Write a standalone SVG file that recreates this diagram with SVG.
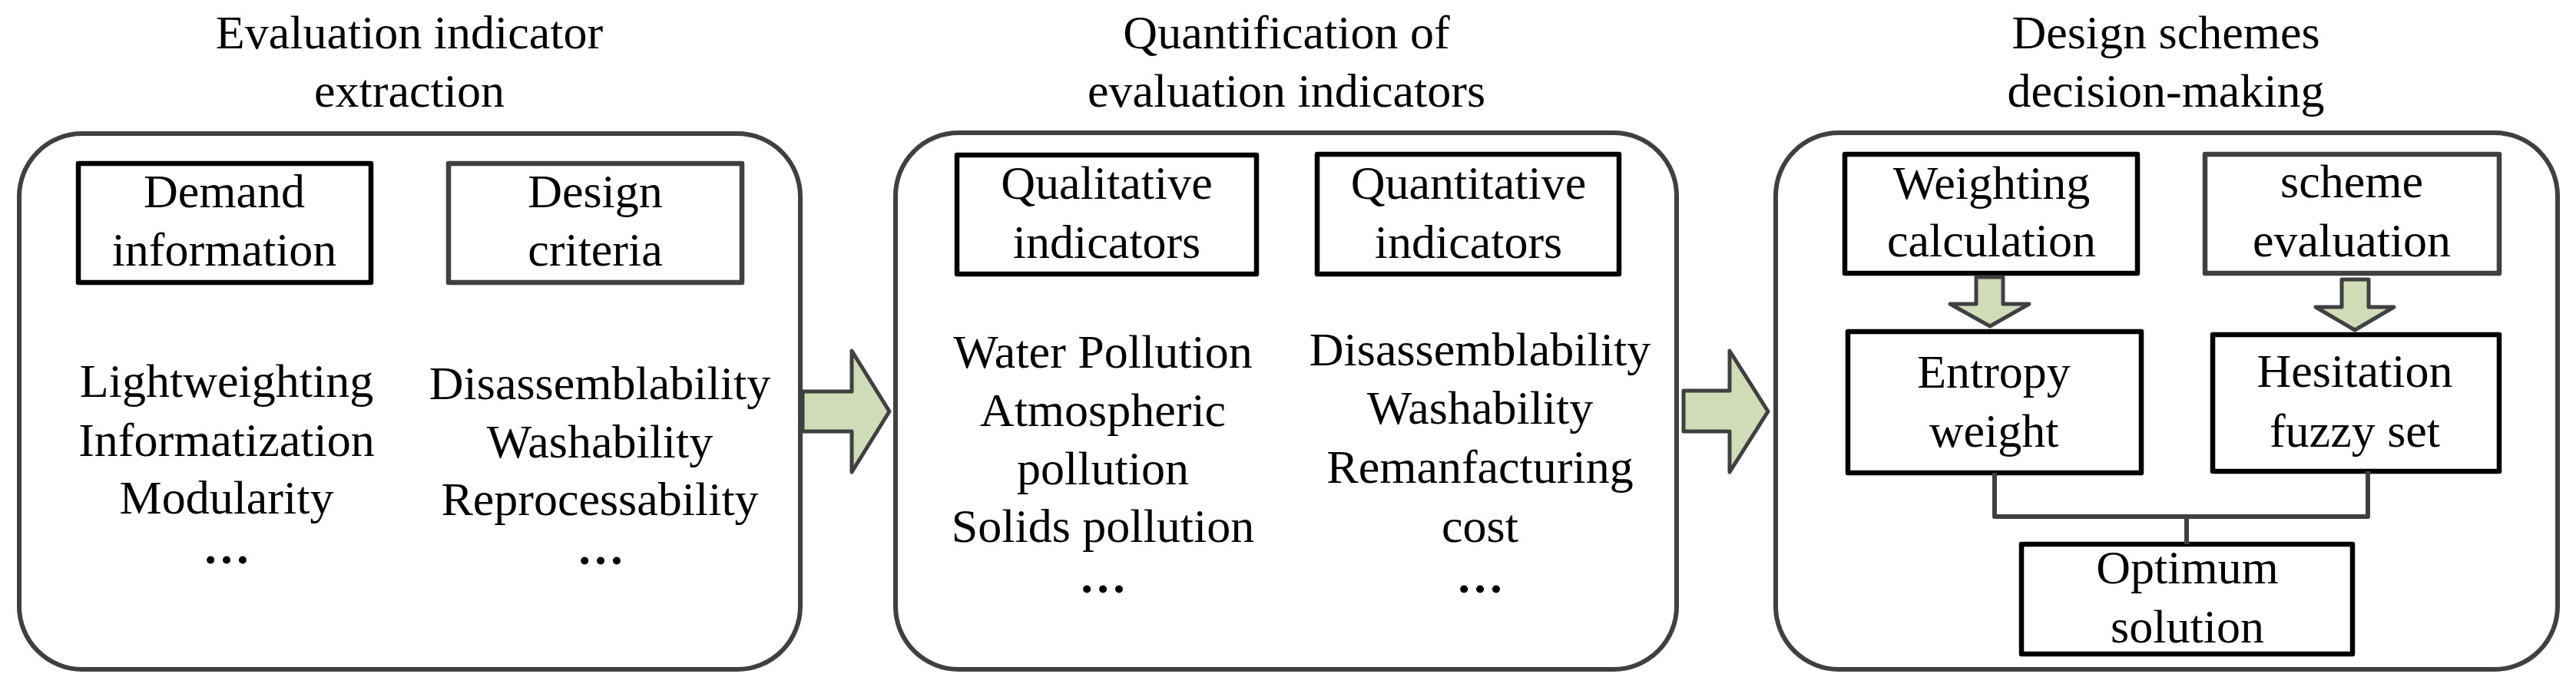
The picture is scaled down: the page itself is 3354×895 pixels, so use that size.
<svg xmlns="http://www.w3.org/2000/svg" width="3354" height="895" viewBox="0 0 3354 895">
<style>
text{font-size:62px;fill:#000;text-anchor:middle}
.dots{font-weight:bold}
.panel{fill:#fff;stroke:#404040;stroke-width:6}
.box{fill:#fff;stroke:#000;stroke-width:6.5;stroke-linejoin:round}
.gbox{fill:#fff;stroke:#404040;stroke-width:6.5;stroke-linejoin:round}
.arrow{fill:#D0DCB8;stroke:#404040;stroke-width:5;stroke-linejoin:round}
.conn{fill:none;stroke:#404040;stroke-width:6;stroke-linejoin:round}
</style>
<rect width="3354" height="895" fill="#fff"/>
<g font-family="Liberation Serif">

<g id="panel1">
<text x="533" y="63">Evaluation indicator</text>
<text x="533" y="139">extraction</text>
<rect class="panel" x="25" y="174" width="1017" height="698" rx="82" ry="82"/>
</g>
<g id="demand-information">
<rect class="box" x="102" y="213" width="381" height="155"/>
<text x="292" y="270">Demand</text>
<text x="292" y="346">information</text>
</g>
<g id="design-criteria">
<rect class="gbox" x="584" y="213" width="382" height="155"/>
<text x="775" y="270">Design</text>
<text x="775" y="346">criteria</text>
</g>
<g id="list1-left">
<text x="295" y="517">Lightweighting</text>
<text x="295" y="594">Informatization</text>
<text x="295" y="669">Modularity</text>
<text class="dots" x="295" y="734">…</text>
</g>
<g id="list1-right">
<text x="781" y="520">Disassemblability</text>
<text x="781" y="596">Washability</text>
<text x="781" y="671">Reprocessability</text>
<text class="dots" x="782" y="735">…</text>
</g>

<g id="panel2">
<text x="1675" y="63">Quantification of</text>
<text x="1675" y="139">evaluation indicators</text>
<rect class="panel" x="1166" y="173" width="1017" height="699" rx="82" ry="82"/>
</g>
<g id="qualitative-indicators">
<rect class="box" x="1246" y="202" width="390" height="155"/>
<text x="1441" y="259">Qualitative</text>
<text x="1441" y="336">indicators</text>
</g>
<g id="quantitative-indicators">
<rect class="box" x="1715" y="201" width="393" height="156"/>
<text x="1912" y="259">Quantitative</text>
<text x="1912" y="336">indicators</text>
</g>
<g id="list2-left">
<text x="1436" y="479">Water Pollution</text>
<text x="1436" y="555">Atmospheric</text>
<text x="1436" y="631">pollution</text>
<text x="1436" y="706">Solids pollution</text>
<text class="dots" x="1436" y="772">…</text>
</g>
<g id="list2-right">
<text x="1927" y="476">Disassemblability</text>
<text x="1927" y="552">Washability</text>
<text x="1927" y="629">Remanfacturing</text>
<text x="1927" y="706">cost</text>
<text class="dots" x="1927" y="772">…</text>
</g>

<g id="panel3">
<text x="2820" y="63">Design schemes</text>
<text x="2820" y="139">decision-making</text>
<rect class="panel" x="2312" y="173" width="1018" height="699" rx="82" ry="82"/>
</g>
<g id="weighting-calculation">
<rect class="box" x="2402" y="201" width="381" height="155"/>
<text x="2593" y="259">Weighting</text>
<text x="2593" y="334">calculation</text>
</g>
<g id="scheme-evaluation">
<rect class="gbox" x="2871" y="201" width="383" height="155"/>
<text x="3062" y="257">scheme</text>
<text x="3062" y="334">evaluation</text>
</g>
<g id="entropy-weight">
<rect class="box" x="2406" y="432" width="382" height="184"/>
<text x="2596" y="505">Entropy</text>
<text x="2596" y="582">weight</text>
</g>
<g id="hesitation-fuzzy-set">
<rect class="box" x="2881" y="436" width="373" height="178"/>
<text x="3066" y="504">Hesitation</text>
<text x="3066" y="582">fuzzy set</text>
</g>
<g id="optimum-solution">
<rect class="box" x="2632" y="709" width="431" height="143"/>
<text x="2848" y="760">Optimum</text>
<text x="2848" y="837">solution</text>
</g>

<g id="connectors">
<polygon class="arrow" points="1045,510 1109,510 1109,457 1158,536 1109,615 1109,562 1045,562"/>
<polygon class="arrow" points="2192,509 2252,509 2252,457 2302,536 2252,615 2252,562 2192,562"/>
<polygon class="arrow" points="2573,361 2608,361 2608,396 2642,396 2591,425 2539,396 2573,396"/>
<polygon class="arrow" points="3049,364 3084,364 3084,400 3117,400 3066,430 3015,400 3049,400"/>
<path class="conn" d="M2597,616 V673 H3083 V614"/>
<path class="conn" d="M2847,673 V709"/>
</g>
</g>
</svg>
